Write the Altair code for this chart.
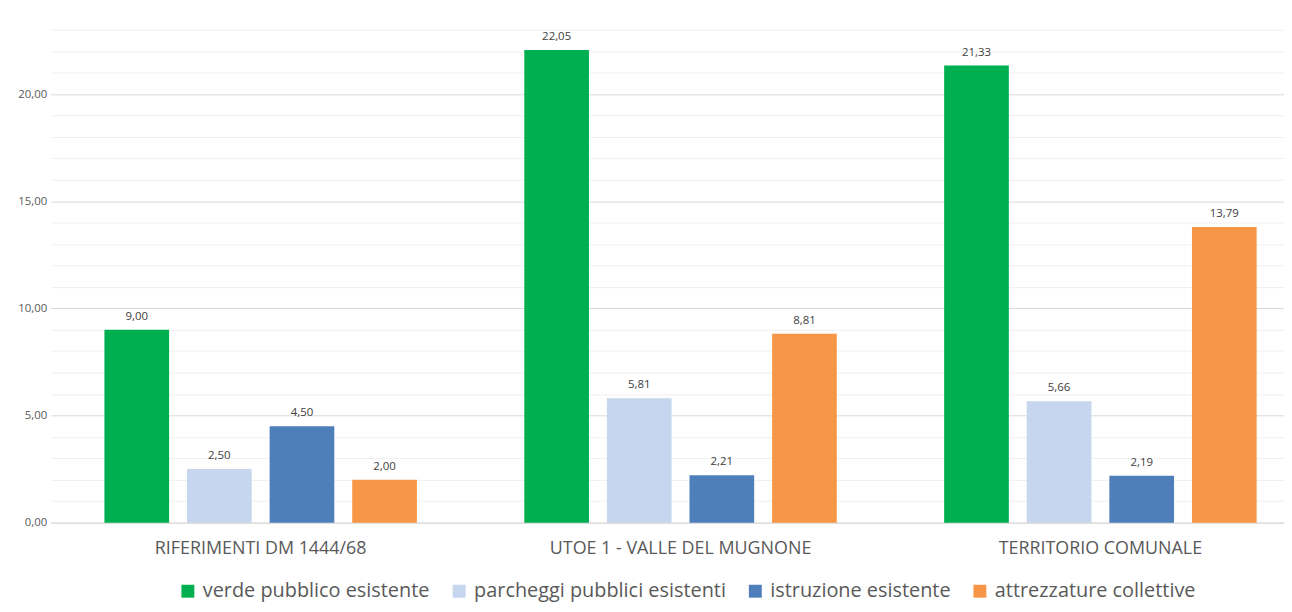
import altair as alt
import pandas as pd

categories = ["RIFERIMENTI DM 1444/68", "UTOE 1 - VALLE DEL MUGNONE", "TERRITORIO COMUNALE"]
series = ["verde pubblico esistente", "parcheggi pubblici esistenti",
          "istruzione esistente", "attrezzature collettive"]
verde = [9.00, 22.05, 21.33]
parcheggi = [2.50, 5.81, 5.66]
istruzione = [4.50, 2.21, 2.19]
attrezzature = [2.00, 8.81, 13.79]
colors = ["#00AF50", "#C5D6EE", "#4E7FBB", "#F79646"]
y_ticks = list(range(0, 24))

rows = []
for s, vals in zip(series, [verde, parcheggi, istruzione, attrezzature]):
    for c, v in zip(categories, vals):
        rows.append({"categoria": c, "serie": s, "valore": v})
df = pd.DataFrame(rows)

FONT = "Open Sans"
fmt = "replace(format(datum.value, '.2f'), '.', ',')"

x_enc = alt.X(
    "categoria:N", sort=categories,
    scale=alt.Scale(range=[-8, 1259.5], paddingInner=0, paddingOuter=0),
    axis=alt.Axis(title=None, labelAngle=0, labelFontSize=18, labelColor="#595959",
                  labelFont=FONT, domainColor="#d9d9d9", domainWidth=1, ticks=False,
                  labelPadding=17, labelLimit=600, grid=False),
)
xoff_enc = alt.XOffset("serie:N", sort=series,
                       scale=alt.Scale(paddingInner=0.217, paddingOuter=0.65))
y_enc = alt.Y(
    "valore:Q",
    scale=alt.Scale(domain=[0, 23], nice=False, zero=True),
    axis=alt.Axis(
        title=None, values=y_ticks, domain=False, ticks=False,
        labelExpr="datum.value % 5 === 0 ? " + fmt + " : ''",
        labelFontSize=11.5, labelColor="#595959", labelFont=FONT, labelPadding=12,
        gridColor={"condition": {"test": "datum.value % 5 === 0", "value": "#d9d9d9"},
                   "value": "#f0f0f0"},
        gridWidth=1,
    ),
)

bars = alt.Chart(df).mark_bar().encode(
    x=x_enc,
    xOffset=xoff_enc,
    y=y_enc,
    color=alt.Color(
        "serie:N", sort=series,
        scale=alt.Scale(domain=series, range=colors),
        legend=alt.Legend(
            title=None, orient="none", direction="horizontal", columns=4,
            legendX=120, legendY=555, symbolType="square", symbolSize=169,
            symbolStrokeWidth=0, labelFontSize=20, labelColor="#595959",
            labelFont=FONT, columnPadding=19, labelOffset=5, labelLimit=400,
        ),
    ),
)

labels = alt.Chart(df).transform_calculate(
    etichetta="replace(format(datum.valore, '.2f'), '.', ',')"
).mark_text(dy=-8, baseline="bottom", fontSize=11.5, color="#404040", font=FONT).encode(
    x=x_enc,
    xOffset=xoff_enc,
    y=y_enc,
    text="etichetta:N",
)

chart = alt.layer(bars, labels).properties(
    width=1233, height=496,
    autosize=alt.AutoSizeParams(type="none"),
    padding={"left": 51, "top": 20, "right": 0, "bottom": 80},
).configure_view(strokeWidth=0)

chart.save("out.html", embed_options={"renderer": "svg", "actions": False})
